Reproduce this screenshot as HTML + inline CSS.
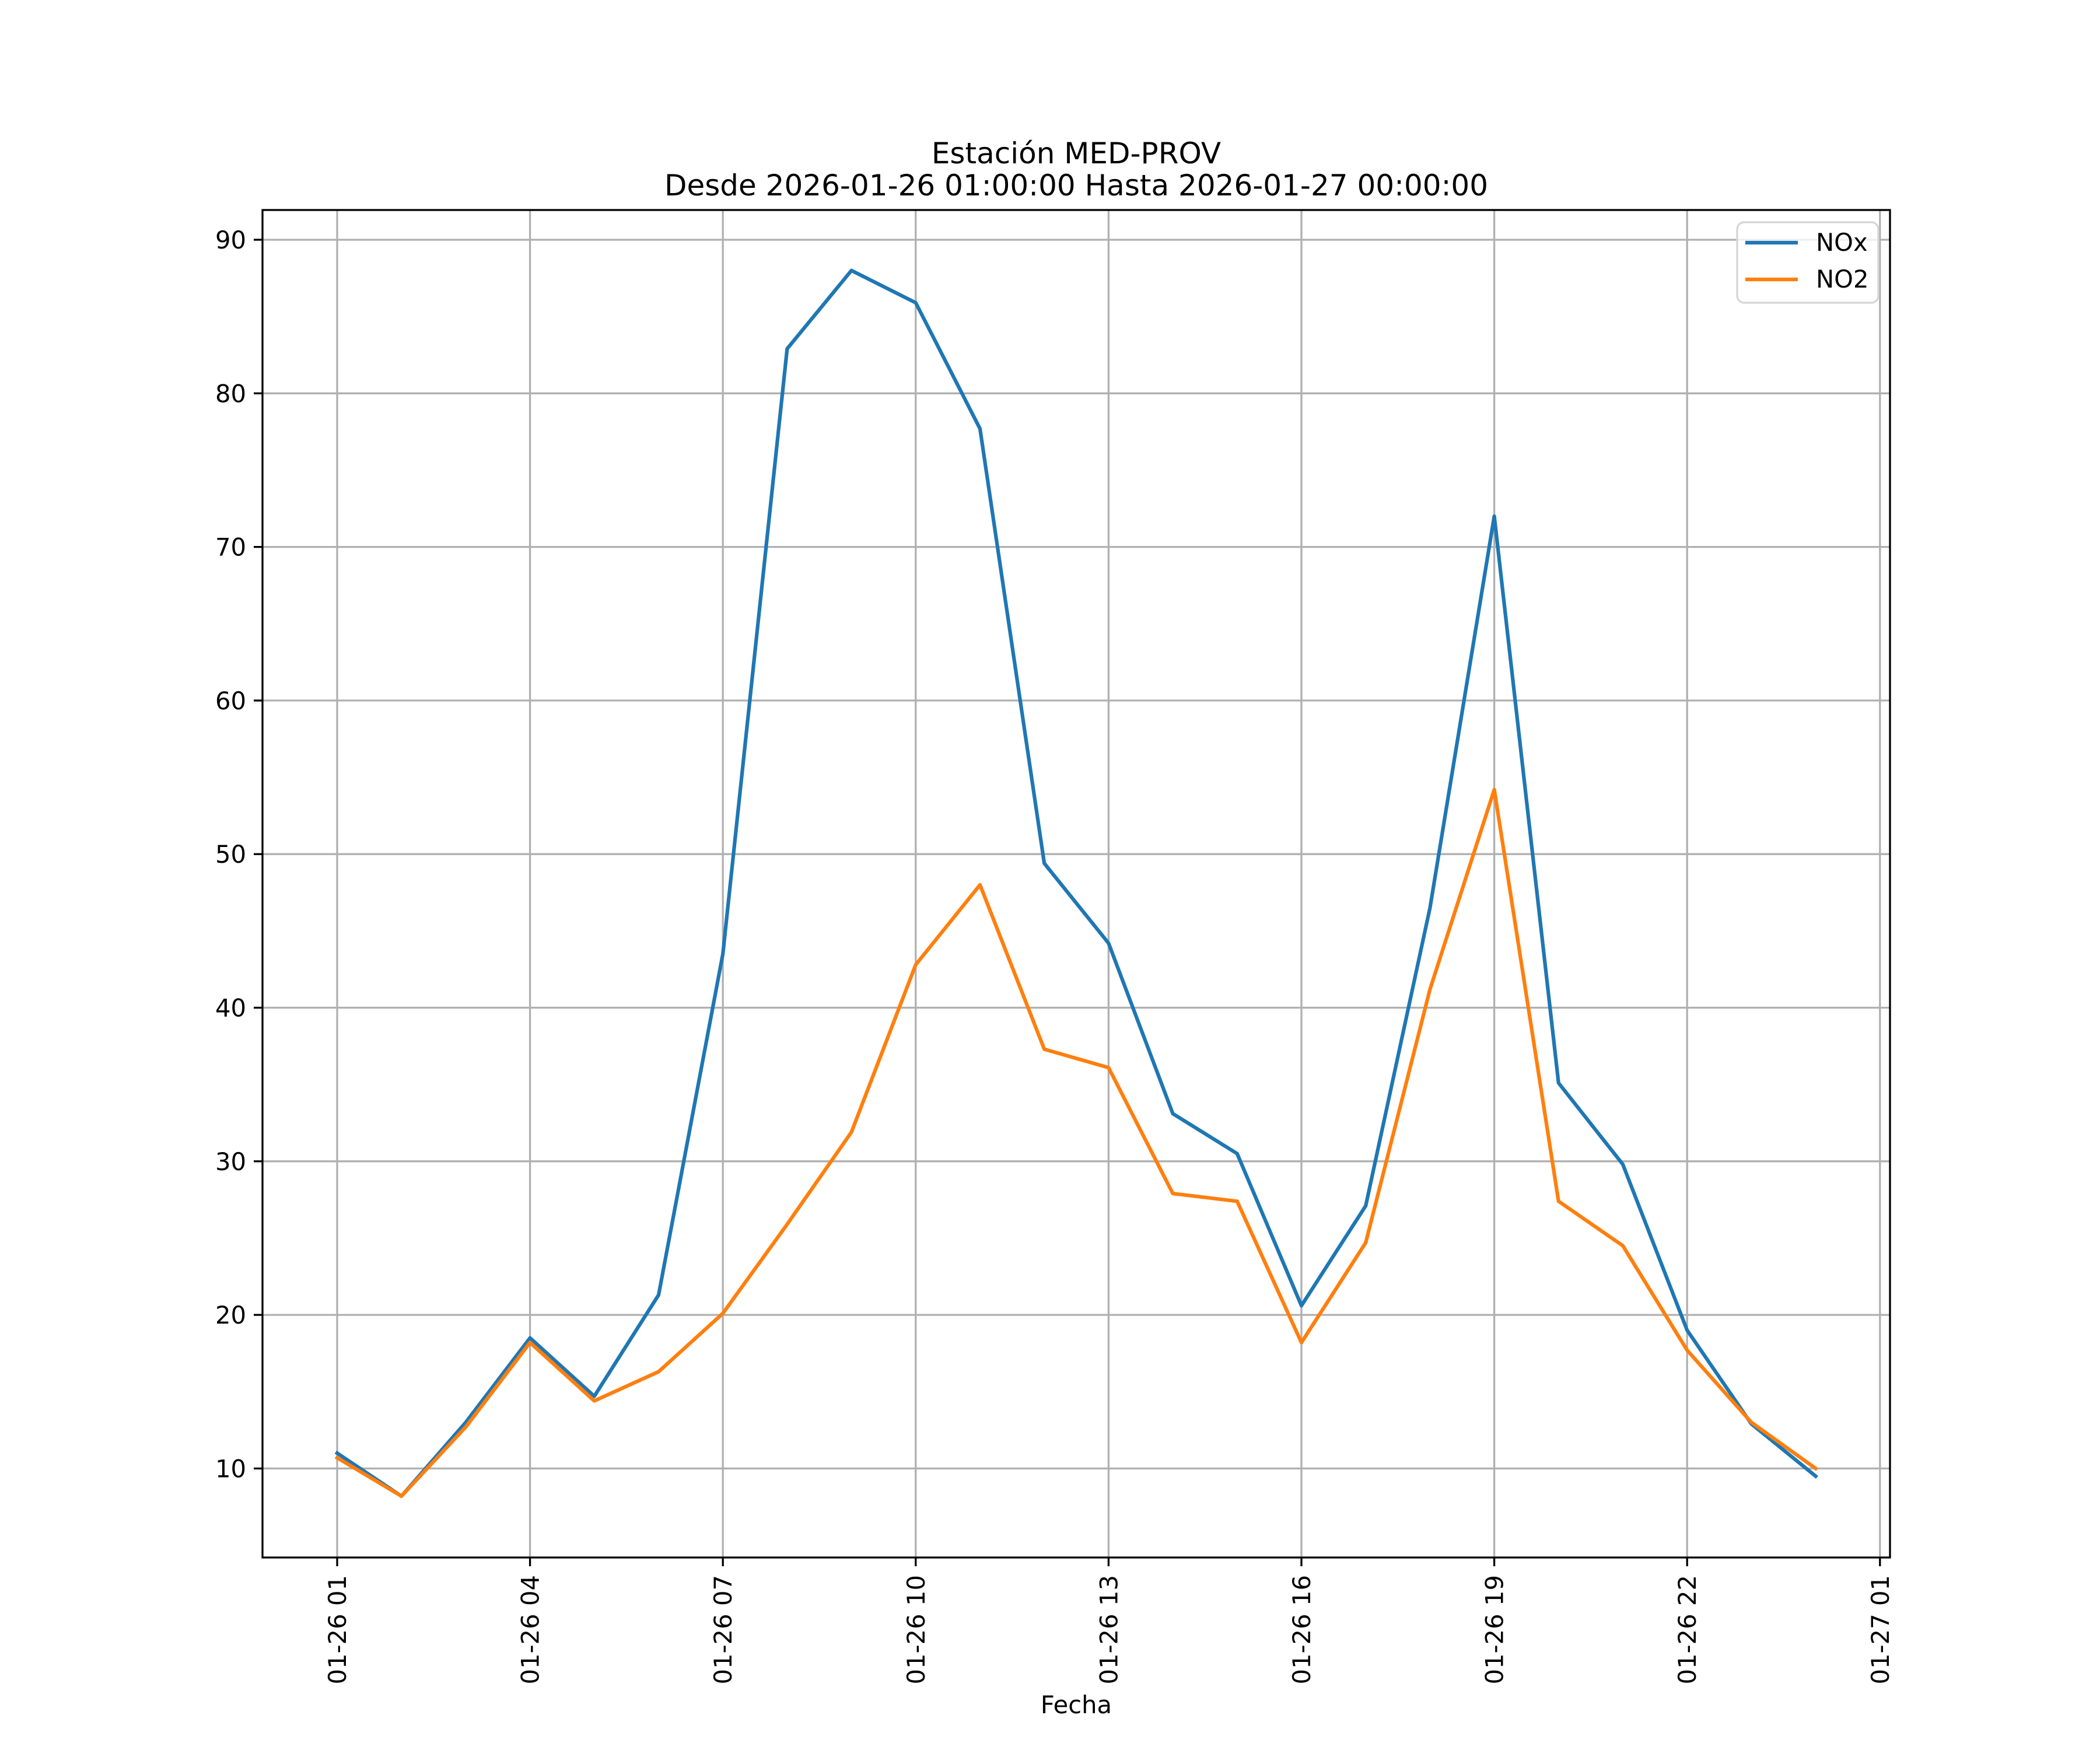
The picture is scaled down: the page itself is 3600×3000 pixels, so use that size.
<!DOCTYPE html>
<html><head><meta charset="utf-8"><style>
html,body{margin:0;padding:0;background:#fff}
svg{display:block}
text{font-family:"DejaVu Sans","Liberation Sans",sans-serif;fill:#000}
</style></head><body>
<svg id="chart" width="3600" height="3000" viewBox="0 0 3600 3000" xmlns="http://www.w3.org/2000/svg">
<rect width="3600" height="3000" fill="#fff"/>
<g id="grid"></g>
<g id="series"></g>
<rect x="450" y="360" width="2790" height="2310" fill="none" stroke="#000" stroke-width="3.3"/>
<g id="ticks"></g>
<text x="1845" y="280" font-size="50" text-anchor="middle">Estación MED-PROV</text>
<text x="1845" y="335" font-size="50" text-anchor="middle">Desde 2026-01-26 01:00:00 Hasta 2026-01-27 00:00:00</text>
<text x="1845" y="2937" font-size="41.7" text-anchor="middle">Fecha</text>
<g>
<rect x="2978" y="381" width="242" height="138" rx="12" fill="#fff" fill-opacity="0.8" stroke="#d6d6d6" stroke-width="3.3"/>
<line x1="2992" y1="416" x2="3082" y2="416" stroke="#1f77b4" stroke-width="6.25"/>
<text x="3113" y="430" font-size="41.7">NOx</text>
<line x1="2992" y1="479" x2="3082" y2="479" stroke="#ff7f0e" stroke-width="6.25"/>
<text x="3113" y="493" font-size="41.7">NO2</text>
</g>
</svg>
<script>
const hours = [1,2,3,4,5,6,7,8,9,10,11,12,13,14,15,16,17,18,19,20,21,22,23,24];
const noxValues = [11,8.2,13,18.5,14.7,21.3,43.5,82.9,88,85.9,77.7,49.4,44.2,33.1,30.5,20.6,27.1,46.5,72,35.1,29.8,19,12.9,9.5];
const no2Values = [10.7,8.2,12.7,18.2,14.4,16.3,20.1,25.9,31.9,42.8,48,37.3,36.1,27.9,27.4,18.2,24.7,41.2,54.2,27.4,24.5,17.7,13,10];
const yTicks = [10,20,30,40,50,60,70,80,90];
const xTickHours = [1,4,7,10,13,16,19,22,25];
const xTickLabels = ["01-26 01","01-26 04","01-26 07","01-26 10","01-26 13","01-26 16","01-26 19","01-26 22","01-27 01"];

const NS="http://www.w3.org/2000/svg";
function xs(h){return 578+(h-1)*110.2;}
function ys(v){return 411+(90-v)*26.33;}
const grid=document.getElementById('grid'),ticks=document.getElementById('ticks'),series=document.getElementById('series');
function mk(tag,attrs,parent){const e=document.createElementNS(NS,tag);for(const k in attrs)e.setAttribute(k,attrs[k]);parent.appendChild(e);return e;}
yTicks.forEach(v=>{
  const g=mk('line',{x1:450,x2:3240,y1:ys(v),y2:ys(v),stroke:'#b0b0b0','stroke-width':3.3},grid);
  
  
  const t=mk('line',{x1:435,x2:450,y1:ys(v),y2:ys(v),stroke:'#000','stroke-width':3.3},ticks);
  
  
  const l=mk('text',{x:422,y:ys(v)+15,'font-size':41.7,'text-anchor':'end'},ticks);
  l.textContent=v;
  
  
});
xTickHours.forEach((h,i)=>{
  const g=mk('line',{x1:xs(h),x2:xs(h),y1:360,y2:2670,stroke:'#b0b0b0','stroke-width':3.3},grid);
  
  
  const t=mk('line',{x1:xs(h),x2:xs(h),y1:2670,y2:2685,stroke:'#000','stroke-width':3.3},ticks);
  
  
  const l=mk('text',{x:0,y:0,'font-size':41.7,'text-anchor':'end',transform:`translate(${xs(h)+15},2700) rotate(-90)`},ticks);
  l.textContent=xTickLabels[i];
  
  
});
function drawLine(vals,color,name){
  const pts=hours.map((h,i)=>xs(h).toFixed(1)+','+ys(vals[i]).toFixed(1)).join(' ');
  const p=mk('polyline',{points:pts,fill:'none',stroke:color,'stroke-width':6.25,'stroke-linejoin':'round','stroke-linecap':'square'},series);
  
  
}
drawLine(noxValues,'#1f77b4','nox-line');
drawLine(no2Values,'#ff7f0e','no2-line');
</script>
</body></html>
